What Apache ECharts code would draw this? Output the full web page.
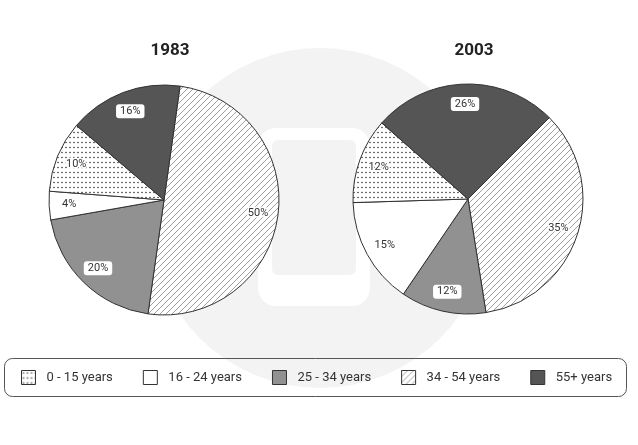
<!DOCTYPE html>
<html>
<head>
<meta charset="utf-8">
<script src="https://cdn.jsdelivr.net/npm/echarts@6/dist/echarts.min.js"></script>
<style>
  html, body { margin: 0; padding: 0; background: #fff; }
  #main { width: 638px; height: 445px; }
</style>
</head>
<body>
<div id="main"></div>
<script>
var categories = ['0 - 15 years', '16 - 24 years', '25 - 34 years', '34 - 54 years', '55+ years'];
var years = ['1983', '2003'];
var values1983 = [10, 4, 20, 50, 16];
var values2003 = [12, 15, 12, 35, 26];

// clockwise order of slices in both pies
var sliceOrder = [3, 2, 1, 0, 4];

function dotPattern() {
    var c = document.createElement('canvas');
    c.width = 4; c.height = 5;
    var ctx = c.getContext('2d');
    ctx.fillStyle = '#fff';
    ctx.fillRect(0, 0, 4, 5);
    ctx.fillStyle = '#222';
    ctx.beginPath();
    ctx.arc(2, 2.5, 0.75, 0, Math.PI * 2);
    ctx.fill();
    return c;
}

function hatchPattern() {
    var c = document.createElement('canvas');
    c.width = 6; c.height = 6;
    var ctx = c.getContext('2d');
    ctx.fillStyle = '#fff';
    ctx.fillRect(0, 0, 6, 6);
    ctx.strokeStyle = '#888';
    ctx.lineWidth = 0.8;
    ctx.beginPath();
    ctx.moveTo(0, 6); ctx.lineTo(6, 0);
    ctx.moveTo(-1, 1); ctx.lineTo(1, -1);
    ctx.moveTo(5, 7); ctx.lineTo(7, 5);
    ctx.stroke();
    return c;
}

var fills = [
    { image: dotPattern(), repeat: 'repeat' },
    '#ffffff',
    '#919191',
    { image: hatchPattern(), repeat: 'repeat' },
    '#555555'
];
var boxed = [false, false, true, false, true];

function sliceData(values, withLabel) {
    return sliceOrder.map(function (i) {
        var d = { name: categories[i], value: values[i] };
        if (!withLabel) {
            d.itemStyle = { color: fills[i] };
        } else if (boxed[i]) {
            d.label = { backgroundColor: '#fff', borderRadius: 3, padding: [2, 4, 1, 4], textBorderWidth: 0 };
        }
        return d;
    });
}

var centers = [[164, 200], [468, 199]];
var startAngles = [82, 45];
var allValues = [values1983, values2003];

var series = [];
allValues.forEach(function (vals, k) {
    series.push({
        type: 'pie',
        center: centers[k],
        radius: 115,
        startAngle: startAngles[k],
        clockwise: true,
        silent: true,
        label: { show: false },
        labelLine: { show: false },
        itemStyle: { borderColor: '#333', borderWidth: 1 },
        data: sliceData(vals, false)
    });
});
allValues.forEach(function (vals, k) {
    series.push({
        type: 'pie',
        center: centers[k],
        radius: [69, 115],
        startAngle: startAngles[k],
        clockwise: true,
        silent: true,
        itemStyle: { color: 'rgba(0,0,0,0)', borderWidth: 0 },
        label: {
            show: true,
            position: 'inside',
            formatter: '{c}%',
            color: '#333',
            fontSize: 11,
            fontFamily: 'Roboto',
            textBorderColor: '#fff',
            textBorderWidth: 3
        },
        labelLine: { show: false },
        data: sliceData(vals, true)
    });
});

var chart = echarts.init(document.getElementById('main'));
chart.setOption({
    animation: false,
    backgroundColor: '#fff',
    title: years.map(function (y, k) {
        return {
            text: y,
            left: centers[k][0] + 1,
            top: 37,
            textAlign: 'center',
            textStyle: { fontSize: 17, fontWeight: 'bold', color: '#222', fontFamily: 'Roboto' }
        };
    }),
    graphic: [
        { type: 'circle', shape: { cx: 320, cy: 218, r: 170 }, style: { fill: '#f3f3f3' }, z: -10, silent: true },
        { type: 'rect', shape: { x: 258, y: 128, width: 112, height: 178, r: 18 }, style: { fill: '#fff' }, z: -9, silent: true },
        { type: 'rect', shape: { x: 272, y: 140, width: 84, height: 135, r: 6 }, style: { fill: '#f3f3f3' }, z: -8, silent: true },
        { type: 'rect', shape: { x: 4.5, y: 358.5, width: 622, height: 38, r: 8 }, style: { fill: 'none', stroke: '#555', lineWidth: 1 }, z: 1, silent: true }
    ],
    legend: {
        data: categories,
        left: 21,
        top: 370,
        padding: 0,
        itemWidth: 14,
        itemHeight: 14,
        itemGap: 30,
        icon: 'rect',
        selectedMode: false,
        itemStyle: { borderColor: '#333', borderWidth: 1 },
        textStyle: { fontSize: 13, color: '#333', fontFamily: 'Roboto', padding: [0, 0, 0, 6] }
    },
    series: series
});
</script>
</body>
</html>
